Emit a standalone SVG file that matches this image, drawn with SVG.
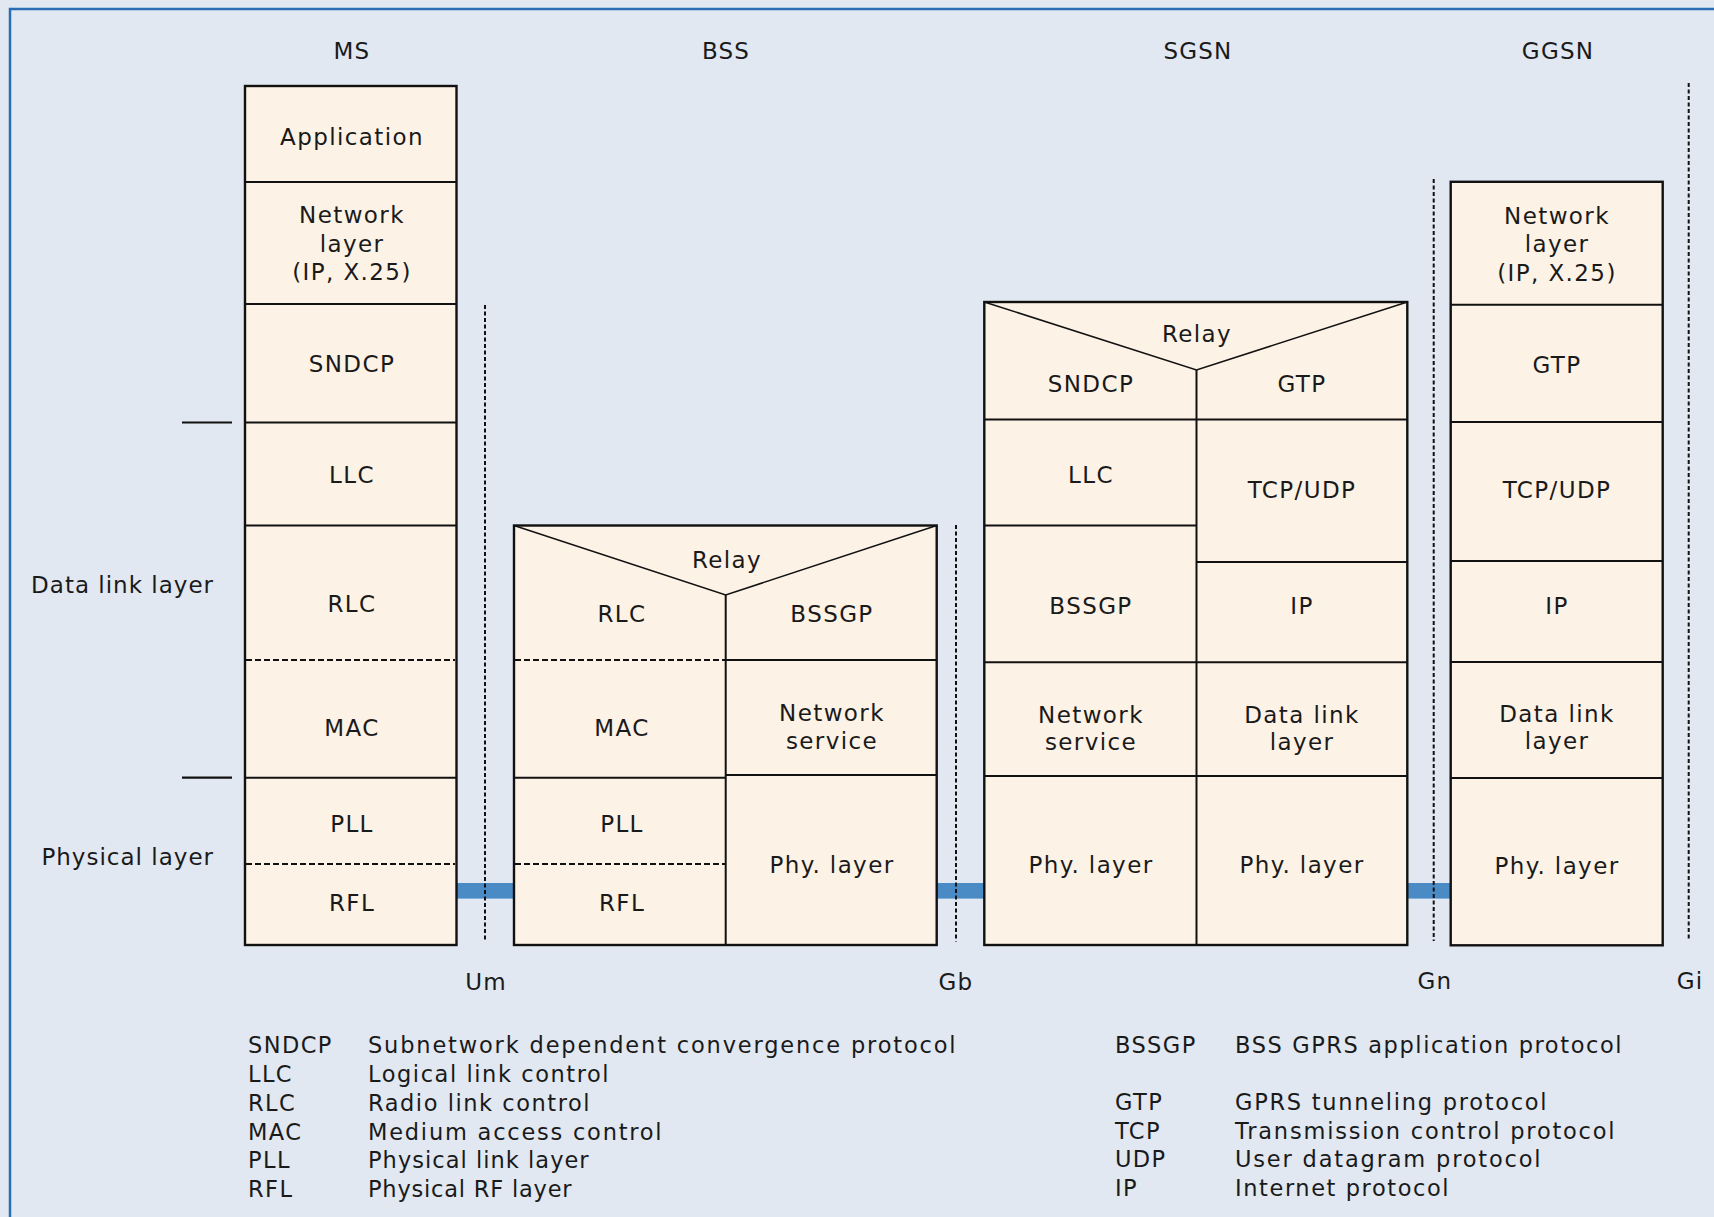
<svg xmlns="http://www.w3.org/2000/svg" width="1714" height="1217" viewBox="0 0 1714 1217">
<style>
  .bg{fill:#e1e8f2}
  .frame{fill:none;stroke:#2b6db3;stroke-width:2.5}
  .box{fill:#fdf2e6;stroke:#111;stroke-width:2.4}
  .ln{stroke:#111;stroke-width:2;fill:none}
  .thin{stroke:#111;stroke-width:1.5;fill:none}
  .dl{stroke:#111;stroke-width:1.8;stroke-dasharray:6 3;fill:none}
  .ifc{stroke:#111;stroke-width:2;stroke-dasharray:4 2.5;fill:none}
  .bar{fill:#4a8bc5}
  .tick{stroke:#111;stroke-width:2.2}
  text{font-family:"DejaVu Sans","Open Sans",sans-serif;fill:#1a1a1a}
  .t{font-size:23px;text-anchor:middle;letter-spacing:1.4px}
  .h{font-size:23px;text-anchor:middle;letter-spacing:1.2px}
  .side{font-size:23px;text-anchor:end;letter-spacing:1px}
  .lg{font-size:22.5px;letter-spacing:1.4px}
</style>
<rect class="bg" x="0" y="0" width="1714" height="1217"/>
<rect class="frame" x="10" y="9" width="1730" height="1230"/>

<g id="headings">
  <text class="h" x="352" y="59">MS</text>
  <text class="h" x="726" y="59">BSS</text>
  <text class="h" x="1198" y="59">SGSN</text>
  <text class="h" x="1558" y="59">GGSN</text>
</g>

<g id="side-labels">
  <line class="tick" x1="182" y1="422.5" x2="232" y2="422.5"/>
  <line class="tick" x1="182" y1="777.7" x2="232" y2="777.7"/>
  <text class="side" x="214" y="593">Data link layer</text>
  <text class="side" x="214" y="865">Physical layer</text>
</g>

<g id="connectors">
  <rect class="bar" x="456.5" y="883" width="57.5" height="15.6"/>
  <rect class="bar" x="936.7" y="883" width="47.6" height="15.6"/>
  <rect class="bar" x="1407.3" y="883" width="43.4" height="15.6"/>
  <line class="ifc" x1="485" y1="305" x2="485" y2="941.5"/>
  <line class="ifc" x1="956" y1="525" x2="956" y2="941.5"/>
  <line class="ifc" x1="1433.7" y1="179" x2="1433.7" y2="941"/>
  <line class="ifc" x1="1688.7" y1="83" x2="1688.7" y2="941"/>
  <text class="h" x="486" y="990">Um</text>
  <text class="h" x="956" y="990">Gb</text>
  <text class="h" x="1435" y="989">Gn</text>
  <text class="h" x="1690" y="989">Gi</text>
</g>

<g id="ms">
  <rect class="box" x="245" y="86" width="211.5" height="859"/>
  <line class="ln" x1="245" y1="182" x2="456.5" y2="182"/>
  <line class="ln" x1="245" y1="304" x2="456.5" y2="304"/>
  <line class="ln" x1="245" y1="422.5" x2="456.5" y2="422.5"/>
  <line class="ln" x1="245" y1="525.5" x2="456.5" y2="525.5"/>
  <line class="dl" x1="246" y1="660" x2="455" y2="660"/>
  <line class="ln" x1="245" y1="777.7" x2="456.5" y2="777.7"/>
  <line class="dl" x1="246" y1="864" x2="455" y2="864"/>
  <text class="t" x="352" y="145">Application</text>
  <text class="t" x="352" y="223">Network</text>
  <text class="t" x="352" y="252">layer</text>
  <text class="t" x="352" y="280">(IP, X.25)</text>
  <text class="t" x="352" y="372">SNDCP</text>
  <text class="t" x="352" y="483">LLC</text>
  <text class="t" x="352" y="612">RLC</text>
  <text class="t" x="352" y="736">MAC</text>
  <text class="t" x="352" y="832">PLL</text>
  <text class="t" x="352" y="911">RFL</text>
</g>

<g id="bss">
  <rect class="box" x="514" y="525.5" width="422.7" height="419.5"/>
  <polyline class="thin" points="514,525.5 725.7,595 936.7,525.5"/>
  <line class="ln" x1="725.7" y1="595" x2="725.7" y2="945"/>
  <line class="dl" x1="515" y1="660" x2="725" y2="660"/>
  <line class="ln" x1="725.7" y1="660" x2="936.7" y2="660"/>
  <line class="ln" x1="514" y1="777.7" x2="725.7" y2="777.7"/>
  <line class="ln" x1="725.7" y1="775" x2="936.7" y2="775"/>
  <line class="dl" x1="515" y1="864" x2="725" y2="864"/>
  <text class="t" x="727" y="568">Relay</text>
  <text class="t" x="622" y="622">RLC</text>
  <text class="t" x="832" y="622">BSSGP</text>
  <text class="t" x="622" y="736">MAC</text>
  <text class="t" x="832" y="721">Network</text>
  <text class="t" x="832" y="749">service</text>
  <text class="t" x="622" y="832">PLL</text>
  <text class="t" x="622" y="911">RFL</text>
  <text class="t" x="832" y="873">Phy. layer</text>
</g>

<g id="sgsn">
  <rect class="box" x="984.3" y="302" width="423" height="643"/>
  <polyline class="thin" points="984.3,302 1196.5,370 1407.3,302"/>
  <line class="ln" x1="1196.5" y1="370" x2="1196.5" y2="945"/>
  <line class="ln" x1="984.3" y1="419.5" x2="1407.3" y2="419.5"/>
  <line class="ln" x1="984.3" y1="525.5" x2="1196.5" y2="525.5"/>
  <line class="ln" x1="1196.5" y1="562" x2="1407.3" y2="562"/>
  <line class="ln" x1="984.3" y1="662.3" x2="1407.3" y2="662.3"/>
  <line class="ln" x1="984.3" y1="776" x2="1407.3" y2="776"/>
  <text class="t" x="1197" y="342">Relay</text>
  <text class="t" x="1091" y="392">SNDCP</text>
  <text class="t" x="1302" y="392">GTP</text>
  <text class="t" x="1091" y="483">LLC</text>
  <text class="t" x="1302" y="498">TCP/UDP</text>
  <text class="t" x="1091" y="613.5">BSSGP</text>
  <text class="t" x="1302" y="613.5">IP</text>
  <text class="t" x="1091" y="722.5">Network</text>
  <text class="t" x="1091" y="750">service</text>
  <text class="t" x="1302" y="722.5">Data link</text>
  <text class="t" x="1302" y="750">layer</text>
  <text class="t" x="1091" y="873">Phy. layer</text>
  <text class="t" x="1302" y="873">Phy. layer</text>
</g>

<g id="ggsn">
  <rect class="box" x="1450.7" y="181.8" width="212" height="763.5"/>
  <line class="ln" x1="1450.7" y1="304.8" x2="1662.7" y2="304.8"/>
  <line class="ln" x1="1450.7" y1="422" x2="1662.7" y2="422"/>
  <line class="ln" x1="1450.7" y1="561" x2="1662.7" y2="561"/>
  <line class="ln" x1="1450.7" y1="662" x2="1662.7" y2="662"/>
  <line class="ln" x1="1450.7" y1="778" x2="1662.7" y2="778"/>
  <text class="t" x="1557" y="224">Network</text>
  <text class="t" x="1557" y="252">layer</text>
  <text class="t" x="1557" y="281">(IP, X.25)</text>
  <text class="t" x="1557" y="373">GTP</text>
  <text class="t" x="1557" y="497.5">TCP/UDP</text>
  <text class="t" x="1557" y="613.5">IP</text>
  <text class="t" x="1557" y="722">Data link</text>
  <text class="t" x="1557" y="749">layer</text>
  <text class="t" x="1557" y="874">Phy. layer</text>
</g>

<g id="legend">
  <text class="lg" x="248" y="1053">SNDCP</text>
  <text class="lg" x="248" y="1082">LLC</text>
  <text class="lg" x="248" y="1110.7">RLC</text>
  <text class="lg" x="248" y="1139.5">MAC</text>
  <text class="lg" x="248" y="1168">PLL</text>
  <text class="lg" x="248" y="1196.7">RFL</text>
  <text class="lg" x="368" y="1053" textLength="589">Subnetwork dependent convergence protocol</text>
  <text class="lg" x="368" y="1082" textLength="242">Logical link control</text>
  <text class="lg" x="368" y="1110.7" textLength="223">Radio link control</text>
  <text class="lg" x="368" y="1139.5" textLength="295">Medium access control</text>
  <text class="lg" x="368" y="1168" textLength="222">Physical link layer</text>
  <text class="lg" x="368" y="1196.7" textLength="205">Physical RF layer</text>
  <text class="lg" x="1115" y="1053">BSSGP</text>
  <text class="lg" x="1115" y="1110">GTP</text>
  <text class="lg" x="1115" y="1138.5">TCP</text>
  <text class="lg" x="1115" y="1167">UDP</text>
  <text class="lg" x="1115" y="1195.5">IP</text>
  <text class="lg" x="1235" y="1053" textLength="388">BSS GPRS application protocol</text>
  <text class="lg" x="1235" y="1110" textLength="313">GPRS tunneling protocol</text>
  <text class="lg" x="1235" y="1138.5" textLength="381">Transmission control protocol</text>
  <text class="lg" x="1235" y="1167" textLength="307">User datagram protocol</text>
  <text class="lg" x="1235" y="1195.5" textLength="215">Internet protocol</text>
</g>
</svg>
